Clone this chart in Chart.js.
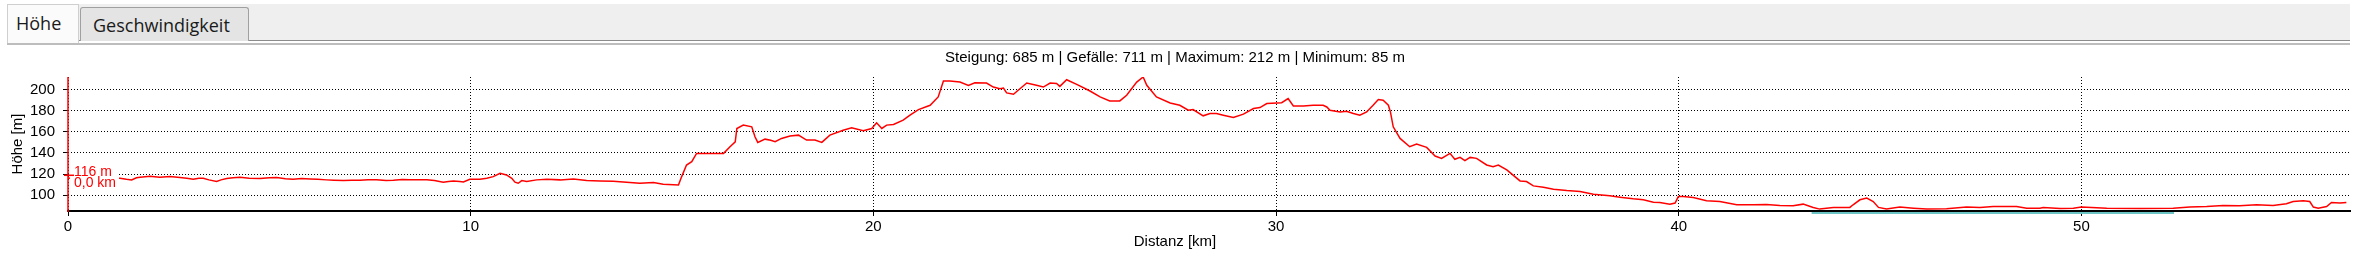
<!DOCTYPE html>
<html>
<head>
<meta charset="utf-8">
<script src="https://cdn.jsdelivr.net/npm/chart.js@4.4.1/dist/chart.umd.min.js"></script>
<style>
html,body{margin:0;padding:0;background:#fff;width:2362px;height:260px;overflow:hidden;}
#wrap{position:relative;width:2362px;height:260px;}
#c{position:absolute;left:0;top:0;}
.band{position:absolute;left:7px;top:4px;width:2343px;height:37px;background:#efefef;}
.l1{position:absolute;left:78px;top:40px;width:2272px;height:1px;background:#8c8c8c;}
.l2{position:absolute;left:7px;top:43px;width:2343px;height:2px;background:#bdbdbd;}
.tab{position:absolute;box-sizing:border-box;font-family:"Open Sans",sans-serif;font-size:18px;color:#1a1a1a;line-height:18px;white-space:nowrap;}
.t1{left:7px;top:4px;width:72px;height:39px;background:#fbfbfb;border:1px solid #cfcfcf;border-bottom:none;padding:9px 0 0 8px;}
.t2{left:80px;top:7px;width:169px;height:34px;background:#e4e4e4;border:1px solid #a0a0a0;border-bottom:none;border-radius:3px 3px 0 0;padding:8px 0 0 12px;}
</style>
</head>
<body>
<div id="wrap">
<canvas id="c" width="2362" height="260"></canvas>
<div class="band"></div>
<div class="l1"></div>
<div class="l2"></div>
<div class="tab t1">Höhe</div>
<div class="tab t2">Geschwindigkeit</div>
</div>
<script>
// ---- data ----
const distanceKm = [
 0.00,0.40,0.80,1.29,1.45,1.58,1.70,1.79,2.04,2.15,2.28,2.53,2.78,2.95,3.11,3.25,3.36,3.50,3.69,3.80,
 3.94,4.10,4.27,4.50,4.77,5.00,5.18,5.40,5.59,5.80,6.01,6.20,6.42,6.60,6.84,7.05,7.25,7.45,7.66,7.90,
 8.08,8.30,8.49,8.70,8.91,9.10,9.32,9.45,9.57,9.73,9.82,9.98,10.07,10.23,10.40,10.56,10.73,10.89,11.02,11.10,
 11.18,11.27,11.39,11.64,11.89,12.22,12.55,12.88,13.21,13.54,13.87,14.20,14.54,14.78,15.16,15.24,15.36,15.49,15.61,15.86,
 16.28,16.44,16.57,16.61,16.77,16.98,17.06,17.13,17.31,17.45,17.56,17.72,17.93,18.14,18.34,18.55,18.72,18.92,19.25,19.46,
 19.75,19.96,20.08,20.21,20.33,20.50,20.74,20.91,21.12,21.41,21.61,21.74,21.90,22.15,22.36,22.52,22.81,22.98,23.14,23.23,
 23.31,23.48,23.64,23.81,24.05,24.22,24.39,24.55,24.63,24.80,25.05,25.38,25.63,25.87,26.12,26.29,26.54,26.70,26.79,27.03,
 27.37,27.61,27.82,27.94,28.19,28.36,28.52,28.69,28.94,29.19,29.44,29.60,29.77,30.02,30.14,30.30,30.43,30.68,30.92,31.17,
 31.26,31.34,31.59,31.75,31.92,32.08,32.25,32.41,32.54,32.66,32.79,32.84,32.91,33.08,33.32,33.49,33.74,33.95,34.11,34.32,
 34.44,34.57,34.69,34.82,34.98,35.23,35.39,35.52,35.73,36.06,36.22,36.39,36.64,36.89,37.22,37.55,37.88,38.29,38.54,38.87,
 39.12,39.37,39.53,39.78,39.91,39.99,40.11,40.36,40.69,41.02,41.44,41.85,42.18,42.51,42.84,43.09,43.34,43.50,43.84,44.25,
 44.33,44.50,44.67,44.83,44.96,45.16,45.49,45.83,46.16,46.65,47.15,47.48,47.81,48.39,48.64,48.97,49.05,49.47,49.80,50.00,
 50.63,51.45,52.28,52.69,53.11,53.52,53.93,54.35,54.76,55.09,55.26,55.51,55.67,55.76,55.88,56.09,56.21,56.42,56.58
];
const elevationM = [
 116,117,116.5,116,115,114.5,116.5,117,117.9,117.5,117,117.6,116.7,116,115.1,116,116,114.5,112.9,114.5,
 115.7,116.5,117,116,115.7,116.5,116.7,115.5,115.1,115.8,115.4,115,114.5,114.2,113.8,114.2,114.2,114.6,114.5,114,
 114.2,114.8,114.5,114.5,114.5,113.8,112.3,113,113.5,112.9,112.6,115.1,115.1,115.1,116,117.6,120.8,119.2,116,112.3,
 111.3,113.8,112.9,114.5,115.1,114.5,115.4,113.8,113.5,113.2,112.3,111.3,111.9,110.4,109.7,117.6,128.6,131.8,139.6,139.6,
 139.6,145.9,150.6,163.2,166.4,164.8,155.3,150.0,153.1,152,150.6,153.8,156.0,156.9,152.2,152.2,150.0,156.9,161.6,163.8,
 161.0,163.2,168.6,163.2,166.4,167,171.1,175.8,181.1,185.2,193.1,208.2,208.2,207.2,204.1,206.6,206.3,202.5,200.9,201.5,
 196.9,195.6,200.9,206.3,204.1,202.5,206.3,205.8,203.1,209.4,205.0,198.7,193.1,189.3,189.3,194.7,207.2,212,204.1,193.1,
 187.4,185.2,180.5,181.1,175.2,177.4,177.4,175.8,173.6,176.8,182.1,183.0,186.8,187.4,187.7,191.5,184.6,184.6,185.2,185.2,
 183.6,180.5,178.9,179.6,177.4,175.8,178.9,185.2,190.6,190,185.2,178.9,164.8,153.8,145.9,148.4,145.3,137.1,134.9,139.6,
 134.0,135.8,132.7,135.8,134.9,128.6,127.0,128.6,123.9,113.5,112.9,108.8,107.5,105.7,104.4,103.5,100.9,99.4,98.1,96.5,
 95.6,93.4,93.1,91.5,92.5,98.7,98.7,97.8,94.7,94.0,90.9,90.9,91.2,90.3,89.9,91.5,88.4,86.8,88.4,88.4,
 90.9,95.6,97.2,94.0,88.4,86.8,88.7,87.7,86.8,87.1,88.7,88.4,89.3,89.3,87.7,87.7,88.4,87.4,87.7,88.7,
 87.7,87.4,87.7,88.7,89.3,90.3,90,90.9,90.3,91.8,94.0,94.7,94.0,88.7,87.7,89.3,93.1,92.5,93.1
];
const tealKm = [43.3, 52.3];
const tealM = [83.2, 83.2];
const xTickValues = [0, 10, 20, 30, 40, 50];
const yTickValues = [100, 120, 140, 160, 180, 200];
const xRange = [0, 56.67];
const yRange = [85, 212];
const cursorKm = 0.0;
const cursorM = 116;
const titleText = 'Steigung: 685 m | Gefälle: 711 m | Maximum: 212 m | Minimum: 85 m';
const xTitle = 'Distanz [km]';
const yTitle = 'Höhe [m]';

// ---- chart ----
const FONT = '"Liberation Sans", Arial, sans-serif';
Chart.defaults.font.family = FONT;
Chart.defaults.font.size = 15;
Chart.defaults.color = '#000';

const cursorPlugin = {
  id: 'cursor',
  afterDatasetsDraw(chart) {
    const {ctx, chartArea, scales} = chart;
    const px = scales.x.getPixelForValue(cursorKm);
    const py = scales.y.getPixelForValue(cursorM);
    ctx.save();
    ctx.fillStyle = '#fff';
    ctx.fillRect(px + 2, py - 13, 49, 25);
    ctx.strokeStyle = '#ff0000';
    ctx.lineWidth = 1.5;
    ctx.beginPath();
    ctx.moveTo(px, chartArea.top);
    ctx.lineTo(px, chartArea.bottom + 1);
    ctx.stroke();
    ctx.beginPath();
    ctx.moveTo(px - 4, py - 3);
    ctx.lineTo(px + 6, py - 3);
    ctx.stroke();
    ctx.fillStyle = '#ff0000';
    ctx.font = '14px ' + FONT;
    ctx.textBaseline = 'middle';
    ctx.textAlign = 'left';
    ctx.fillText(cursorM + ' m', px + 6, py - 6.5);
    ctx.fillText(cursorKm.toFixed(1).replace('.', ',') + ' km', px + 6, py + 5);
    ctx.restore();
  }
};

const gridCommon = {color: '#000', lineWidth: 1, tickLength: 5, tickColor: '#000', tickWidth: 1, tickBorderDash: []};

new Chart(document.getElementById('c'), {
  type: 'line',
  data: {
    datasets: [
      {label: 'Höhe', data: distanceKm.map((x, i) => ({x, y: elevationM[i]})),
       borderColor: '#ff0000', borderWidth: 1.5, pointRadius: 0, tension: 0, fill: false, order: 1},
      {label: 'Markierung', data: tealKm.map((x, i) => ({x, y: tealM[i]})),
       borderColor: '#6cc4c4', borderWidth: 2, pointRadius: 0, fill: false, clip: false, order: 2}
    ]
  },
  options: {
    responsive: false,
    animation: false,
    events: [],
    layout: {padding: {left: 0, right: 12, top: 0, bottom: 0}},
    plugins: {
      legend: {display: false},
      tooltip: {enabled: false},
      title: {display: true, text: titleText, color: '#000', font: {size: 15, weight: 'normal'}, padding: {top: 49, bottom: 10}},
      subtitle: {display: true, position: 'bottom', text: xTitle, color: '#000', font: {size: 15, weight: 'normal'}, padding: {top: 0, bottom: 9}}
    },
    scales: {
      x: {
        type: 'linear', min: xRange[0], max: xRange[1],
        afterBuildTicks: s => { s.ticks = xTickValues.map(v => ({value: v})); },
        afterFit: s => { s.height = 22; },
        ticks: {padding: 2, color: '#000', font: {size: 15}, maxRotation: 0, autoSkip: false, callback: v => String(v)},
        grid: gridCommon,
        border: {display: true, color: '#000', width: 2, dash: [1, 2]}
      },
      y: {
        type: 'linear', min: yRange[0], max: yRange[1],
        afterBuildTicks: s => { s.ticks = yTickValues.map(v => ({value: v})); },
        afterFit: s => { s.width = 68; },
        ticks: {padding: 8, color: '#000', font: {size: 15}, callback: v => String(v)},
        grid: gridCommon,
        border: {display: false, dash: [1, 2]},
        title: {display: true, text: yTitle, color: '#000', font: {size: 15}, padding: {top: 9, bottom: 0}}
      }
    }
  },
  plugins: [cursorPlugin]
});
</script>
</body>
</html>
